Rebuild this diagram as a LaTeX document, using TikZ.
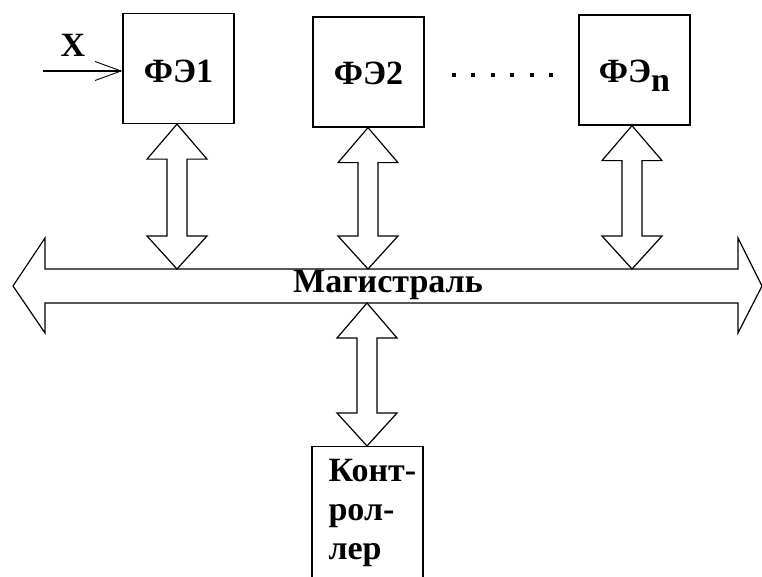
\documentclass[tikz,border=0pt]{standalone}
\usepackage{fontspec}
\setmainfont{Liberation Serif}
\usetikzlibrary{arrows.meta,calc}

\tikzset{
  lbl/.style={font=\fontsize{34}{39}\selectfont\bfseries, inner sep=0pt},
  fe/.style={draw, line width=1.3pt, minimum width=111pt, minimum height=110pt, inner sep=0pt, lbl},
  hollow/.style={draw, line width=1.2pt, fill=white, line join=miter},
  dot/.style={fill=black, minimum size=4pt, inner sep=0pt, rectangle}
}

% text placed with its baseline #1 below the node centre
\newcommand\onbase[2]{\raisebox{-#1}[0pt][0pt]{#2}}

% two-way hollow arrow: x and top end from #1, bottom end at the height of #2
\newcommand\twoway[2]{%
  \path[hollow] let \p1=(#1), \p2=(#2) in
    (\x1,\y1) -- (\x1+30pt,\y1-35pt) -- (\x1+10pt,\y1-35pt) --
    (\x1+10pt,\y2+33pt) -- (\x1+30pt,\y2+33pt) -- (\x1,\y2) --
    (\x1-30pt,\y2+33pt) -- (\x1-10pt,\y2+33pt) -- (\x1-10pt,\y1-35pt) --
    (\x1-30pt,\y1-35pt) -- cycle;}

\begin{document}
\begin{tikzpicture}[x=1pt, y=-1pt]
  \useasboundingbox (0,0) rectangle (762,577);

  % functional elements
  \node[fe] (f1) at (178.5,68.5) {\onbase{14pt}{ФЭ1}};
  \node[fe] (f2) at (368.5,72) {\onbase{13pt}{ФЭ2}};
  \node[fe] (fn) at (634.5,70) {\onbase{13pt}{ФЭ\raisebox{-9pt}{n}}};

  % ellipsis between the second and the last element
  \foreach \i/\xx in {1/454,2/473,3/493,4/512,5/532,6/551}
    \node[dot] (d\i) at (\xx,75) {};

  % input X
  \coordinate (xin) at (43,71);
  \node[lbl] (x) at (73,45) {X};
  \draw[line width=1.2pt, -{Straight Barb[length=26pt, width=19pt, line width=0.9pt]}] (xin) -- (f1.west |- xin);

  % bus
  \path[hollow] (13,286) -- (45,238) -- (45,269) -- (738,269) -- (738,238) --
    (762,286) -- (738,333) -- (738,303) -- (45,303) -- (45,333) -- cycle;
  \node[lbl] (bus) at (388,285) {Магистраль};
  \coordinate (bt) at (0,269);
  \coordinate (bb) at (0,303);

  % controller
  \node[draw, line width=1.3pt, minimum width=111pt, minimum height=150pt, anchor=north, inner sep=0pt] (ctl) at (367.5,446) {};
  \node[lbl, align=left, anchor=north west] (ctltext) at ($(ctl.north west)+(17,13)$) {Конт-\\рол-\\лер};

  % attachment points of the links
  \coordinate (a1) at ($(f1.south)+(-1.5,0)$);
  \coordinate (a2) at ($(f2.south)+(-0.5,0)$);
  \coordinate (an) at ($(fn.south)+(-2.5,0)$);
  \coordinate (ac) at ($(ctl.north)+(-0.5,0)$);
  \coordinate (acb) at (ac |- bb);

  % links to the bus
  \twoway{a1}{bt}
  \twoway{a2}{bt}
  \twoway{an}{bt}
  \twoway{acb}{ctl.north}
\end{tikzpicture}
\end{document}
